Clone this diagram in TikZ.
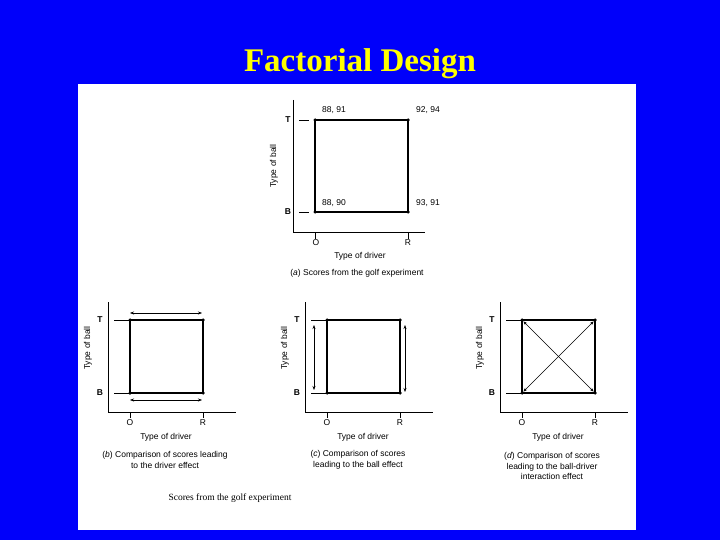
\documentclass[tikz,border=0pt]{standalone}
\usepackage{fontspec}
\setmainfont{Liberation Serif}
\setsansfont{Liberation Sans}
\usetikzlibrary{arrows.meta}
\definecolor{bgblue}{RGB}{0,0,250}
\definecolor{ttl}{RGB}{255,255,0}
\begin{document}
\begin{tikzpicture}[x=1pt,y=-1pt,
  lab/.style={font=\sffamily\fontsize{8.5}{9.5}\selectfont, inner sep=0pt},
  blab/.style={font=\sffamily\bfseries\fontsize{8.5}{9.5}\selectfont, inner sep=0pt},
  capt/.style={font=\sffamily\fontsize{8.5}{10.5}\selectfont, inner sep=0pt, align=center},
  ax/.style={line width=0.9pt},
  sq/.style={line width=1.5pt},
  dot/.style={circle, fill=black, inner sep=0pt, minimum size=3.5pt},
  tk/.style={line width=0.6pt},
  dbl/.style={{Stealth[length=4pt]}-{Stealth[length=4pt]}, line width=0.5pt}]
\fill[bgblue] (0,0) rectangle (720,540);
\fill[white] (78,84) rectangle (636,530);
\node[font=\bfseries\fontsize{33}{36}\selectfont, text=ttl] (title) at (360,64) {Factorial Design};
% panel a
\coordinate (a0) at (293,232);
\draw[ax] (293,100) -- (a0) -- (425,232);
\node[dot] (aOT) at (315,120) {}; \node[dot] (aRT) at (408,120) {};
\node[dot] (aOB) at (315,212) {}; \node[dot] (aRB) at (408,212) {};
\draw[sq] (aOT.center) -- (aRT.center) -- (aRB.center) -- (aOB.center) -- cycle;
\draw[tk] (299,120) -- (309,120); \draw[tk] (299,212) -- (309,212);
\draw[tk] (315,233) -- (315,239); \draw[tk] (408,233) -- (408,239);
\node[blab] (aT) at (288,120) {T};
\node[blab] (aB) at (288,212) {B};
\node[lab] (aO) at (316,243) {O}; \node[lab] (aR) at (408,243) {R};
\node[lab] (aTD) at (360,256) {Type of driver};
\node[lab,rotate=90] (aTB) at (274,166) {Type of ball};
\node[lab] at (334,110) {88, 91}; \node[lab] at (428,110) {92, 94};
\node[lab] at (334,203) {88, 90}; \node[lab] at (428,203) {93, 91};
\node[capt] (acap) at (357,273) {(\textit{a}) Scores from the golf experiment};
% panels b, c, d
\foreach \p/\ax in {b/108,c/305,d/500}{
  \pgfmathsetmacro{\sl}{\ax+22}
  \pgfmathsetmacro{\sr}{\ax+95}
  \draw[ax] (\ax,302) -- (\ax,412) -- (\ax+128,412);
  \node[dot] (\p OT) at (\sl,320) {}; \node[dot] (\p RT) at (\sr,320) {};
  \node[dot] (\p OB) at (\sl,393) {}; \node[dot] (\p RB) at (\sr,393) {};
  \draw[sq] (\p OT.center) -- (\p RT.center) -- (\p RB.center) -- (\p OB.center) -- cycle;
  \draw[tk] (\ax+6,320) -- (\sl,320); \draw[tk] (\ax+6,393) -- (\sl,393);
  \draw[tk] (\sl,412) -- (\sl,418); \draw[tk] (\sr,412) -- (\sr,418);
  \node[blab] (\p T) at (\ax-8,320) {T};
  \node[blab] (\p B) at (\ax-8,393) {B};
  \node[lab] (\p O) at (\sl,423) {O}; \node[lab] (\p R) at (\sr,423) {R};
  \node[lab] (\p TD) at (\ax+58,437) {Type of driver};
  \node[lab,rotate=90] (\p TB) at (\ax-20,348) {Type of ball};
}
\coordinate (bt1) at (130,313); \coordinate (bt2) at (202,313);
\coordinate (bb1) at (130,400); \coordinate (bb2) at (202,400);
\draw[dbl] (bt1) -- (bt2); \draw[dbl] (bb1) -- (bb2);
\coordinate (cl1) at (314,325); \coordinate (cl2) at (314,390);
\coordinate (cr1) at (405,325); \coordinate (cr2) at (405,392);
\draw[dbl] (cl1) -- (cl2); \draw[dbl] (cr1) -- (cr2);
\draw[dbl] (dOT) -- (dRB); \draw[dbl] (dRT) -- (dOB);
\node[capt] (bcap) at (165,460) {(\textit{b}) Comparison of scores leading\\to the driver effect};
\node[capt] (ccap) at (358,460) {(\textit{c}) Comparison of scores\\leading to the ball effect};
\node[capt] (dcap) at (552,466) {(\textit{d}) Comparison of scores\\leading to the ball-driver\\interaction effect};
\node[font=\fontsize{9.5}{10}\selectfont, inner sep=0pt] (foot) at (230,498) {Scores from the golf experiment};
\end{tikzpicture}
\end{document}
